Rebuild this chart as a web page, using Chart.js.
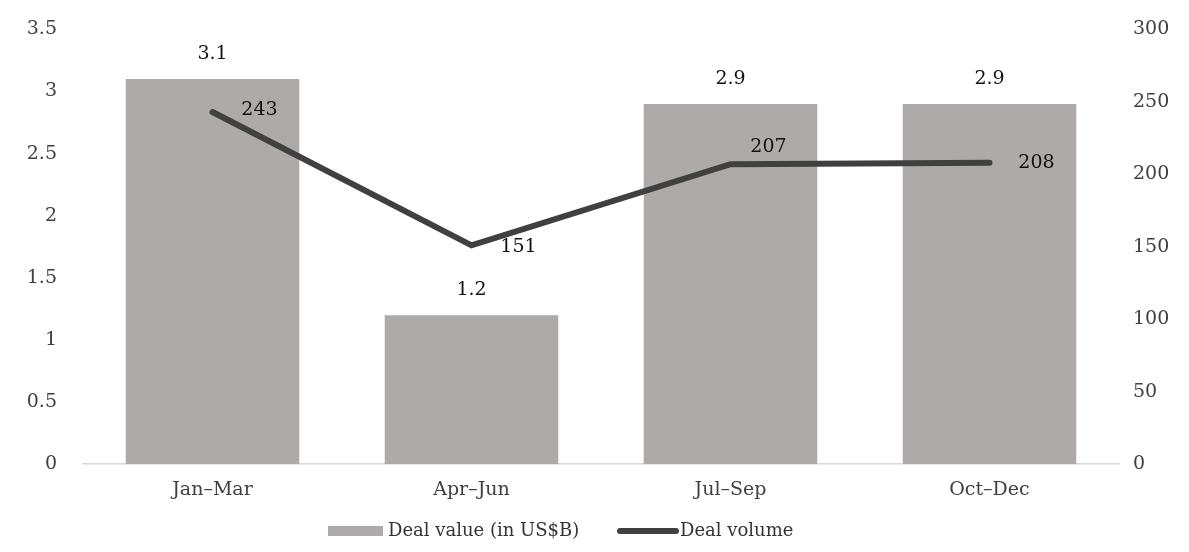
<!DOCTYPE html>
<html>
<head>
<meta charset="utf-8">
<script src="https://cdn.jsdelivr.net/npm/chart.js@4.4.1/dist/chart.umd.min.js"></script>
<style>
html,body{margin:0;padding:0;background:#fff;}
#wrap{width:1189px;height:552px;position:relative;}
</style>
</head>
<body>
<div id="wrap"><canvas id="c" width="1189" height="552"></canvas></div>
<script>
const categories = ["Jan\u2013Mar", "Apr\u2013Jun", "Jul\u2013Sep", "Oct\u2013Dec"];
const dealValue = [3.1, 1.2, 2.9, 2.9];
const dealVolume = [243, 151, 207, 208];
const leftTicks = [0, 0.5, 1, 1.5, 2, 2.5, 3, 3.5];
const rightTicks = [0, 50, 100, 150, 200, 250, 300];
const seriesNames = ["Deal value (in US$B)", "Deal volume"];

const FONT = "'DejaVu Serif', 'Liberation Serif', serif";
const BAR_COLOR = '#AEAAAA';
const LINE_COLOR = '#404040';
const lineLabelOffsets = [[47, -2], [47, 2], [38, -17], [47, 0]];

const labelPlugin = {
  id: 'valueLabels',
  afterDatasetsDraw(chart) {
    const ctx = chart.ctx;
    ctx.save();
    ctx.font = "19px " + FONT;
    ctx.fillStyle = "#111";
    ctx.textAlign = "center";
    ctx.textBaseline = "middle";
    chart.data.datasets.forEach((ds, di) => {
      const meta = chart.getDatasetMeta(di);
      meta.data.forEach((el, i) => {
        if (ds.type === 'bar') {
          ctx.fillText(String(ds.data[i]), el.x, el.y - 25);
        } else {
          const o = lineLabelOffsets[i];
          ctx.fillText(String(ds.data[i]), el.x + o[0], el.y + o[1]);
        }
      });
    });
    ctx.restore();
  }
};

const legendPlugin = {
  id: 'customLegend',
  afterDraw(chart) {
    const ctx = chart.ctx;
    ctx.save();
    ctx.font = "18px " + FONT;
    ctx.textBaseline = 'middle';
    ctx.textAlign = 'left';
    const cy = 531;
    ctx.fillStyle = BAR_COLOR;
    ctx.fillRect(328, cy - 5, 55, 10);
    ctx.fillStyle = '#333';
    ctx.fillText(seriesNames[0], 388, cy);
    ctx.strokeStyle = LINE_COLOR;
    ctx.lineWidth = 6;
    ctx.lineCap = 'round';
    ctx.beginPath();
    ctx.moveTo(620, cy);
    ctx.lineTo(676, cy);
    ctx.stroke();
    ctx.fillText(seriesNames[1], 680, cy);
    ctx.restore();
  }
};

new Chart(document.getElementById('c'), {
  data: {
    labels: categories,
    datasets: [
      {
        type: 'line',
        label: seriesNames[1],
        data: dealVolume,
        yAxisID: 'y1',
        borderColor: LINE_COLOR,
        backgroundColor: LINE_COLOR,
        borderWidth: 6,
        pointRadius: 0,
        borderCapStyle: 'round',
        tension: 0,
        order: 0
      },
      {
        type: 'bar',
        label: seriesNames[0],
        data: dealValue,
        yAxisID: 'y',
        backgroundColor: BAR_COLOR,
        categoryPercentage: 1,
        barPercentage: 0.67,
        order: 1
      }
    ]
  },
  options: {
    responsive: false,
    animation: false,
    devicePixelRatio: 1,
    layout: { padding: { top: 20, left: 0, right: 0, bottom: 45 } },
    plugins: {
      legend: { display: false },
      tooltip: { enabled: false }
    },
    scales: {
      x: {
        offset: true,
        grid: { display: false },
        border: { color: '#D9D9D9', width: 1.5 },
        ticks: { font: { family: FONT, size: 19 }, color: '#404040', padding: 6 }
      },
      y: {
        position: 'left',
        min: 0, max: 3.5,
        afterBuildTicks: (s) => { s.ticks = leftTicks.map(v => ({ value: v })); },
        grid: { display: false },
        border: { display: false },
        ticks: { font: { family: FONT, size: 19 }, color: '#404040', padding: 18,
                 callback: (v) => String(v) },
        afterFit: (s) => { s.width = 83; }
      },
      y1: {
        position: 'right',
        min: 0, max: 300,
        afterBuildTicks: (s) => { s.ticks = rightTicks.map(v => ({ value: v })); },
        grid: { display: false },
        border: { display: false },
        ticks: { font: { family: FONT, size: 19 }, color: '#404040', padding: 6,
                 callback: (v) => String(v) },
        afterFit: (s) => { s.width = 70; }
      }
    }
  },
  plugins: [labelPlugin, legendPlugin]
});
</script>
</body>
</html>
